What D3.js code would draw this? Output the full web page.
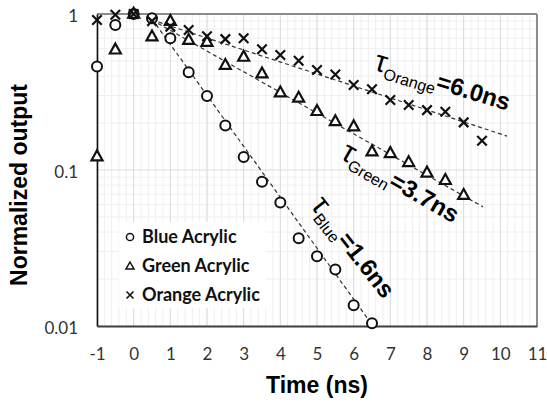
<!DOCTYPE html>
<html><head><meta charset="utf-8">
<script src="https://cdn.jsdelivr.net/npm/d3@7/dist/d3.min.js"></script>
<style>body{margin:0;background:#fff}svg{display:block}</style>
</head><body>
<script>
// ---- data ----
const blueT = [-1,-0.5,0,0.5,1,1.5,2,2.5,3,3.5,4,4.5,5,5.5,6,6.5];
const blueV = [0.46,0.85,1.0,0.94,0.70,0.423,0.298,0.193,0.121,0.084,0.062,0.0365,0.028,0.023,0.0136,0.0104];
const greenT = [-1,-0.5,0,0.5,1,1.5,2,2.5,3,3.5,4,4.5,5,5.5,6,6.5,7,7.5,8,8.5,9];
const greenV = [0.122,0.59,1.0,0.716,0.90,0.68,0.66,0.47,0.53,0.415,0.313,0.29,0.238,0.205,0.19,0.131,0.128,0.112,0.096,0.086,0.069];
const orangeT = [-1,-0.5,0,0.5,1,1.5,2,2.5,3,3.5,4,4.5,5,5.5,6,6.5,7,7.5,8,8.5,9,9.5];
const orangeV = [0.915,0.99,1.0,0.90,0.83,0.79,0.72,0.69,0.70,0.594,0.546,0.502,0.438,0.41,0.351,0.329,0.281,0.261,0.242,0.236,0.202,0.154];
// fitted trend lines: [t0, v0, t1, v1]
const blueFit = [0.5, 0.93, 6.5, 0.0102];
const greenFit = [0.5, 0.915, 9.53, 0.058];
const orangeFit = [0.5, 0.915, 10.18, 0.165];
const xTicks = [-1,0,1,2,3,4,5,6,7,8,9,10,11];
const xTickLabels = ["-1","0","1","2","3","4","5","6","7","8","9","10","11"];
const yTicks = [1, 0.1, 0.01];
const yTickLabels = ["1", "0.1", "0.01"];
const seriesNames = ["Blue Acrylic", "Green Acrylic", "Orange Acrylic"];
const tauLabels = [
  {sub:"Orange", val:"=6.0ns", t:6.52, v:0.44, angle:17},
  {sub:"Green", val:"=3.7ns", t:5.6, v:0.12, angle:30},
  {sub:"Blue", val:"=1.6ns", t:4.8, v:0.059, angle:52}
];

// ---- layout ----
const W = 547, H = 405;
const L = 97, R = 537, T = 14, B = 326;
const svg = d3.select("body").append("svg").attr("width", W).attr("height", H);
const x = d3.scaleLinear().domain([-1, 11]).range([L, R]);
const y = d3.scaleLog().domain([0.01, 1]).range([B, T]);

// gridlines
const g = svg.append("g");
const minorX = d3.range(-1, 11.001, 0.2).map(d => +d.toFixed(2));
g.selectAll(".mx").data(minorX).join("line")
  .attr("x1", d => x(d)).attr("x2", d => x(d)).attr("y1", T).attr("y2", B)
  .attr("stroke", "#efefef").attr("stroke-width", 1);
const minorY = [];
[0.01, 0.1].forEach(dec => { for (let k = 2; k <= 9; k++) minorY.push(dec * k); });
g.selectAll(".my").data(minorY).join("line")
  .attr("x1", L).attr("x2", R).attr("y1", d => y(d)).attr("y2", d => y(d))
  .attr("stroke", "#efefef").attr("stroke-width", 1);
g.selectAll(".Mx").data(xTicks).join("line")
  .attr("x1", d => x(d)).attr("x2", d => x(d)).attr("y1", T).attr("y2", B)
  .attr("stroke", "#dcdcdc").attr("stroke-width", 1);
g.selectAll(".My").data(yTicks).join("line")
  .attr("x1", L).attr("x2", R).attr("y1", d => y(d)).attr("y2", d => y(d))
  .attr("stroke", "#dcdcdc").attr("stroke-width", 1);

// border
svg.append("line").attr("x1", L).attr("x2", R).attr("y1", T).attr("y2", T).attr("stroke", "#8c8c8c").attr("stroke-width", 2);
svg.append("line").attr("x1", R).attr("x2", R).attr("y1", T).attr("y2", B).attr("stroke", "#8c8c8c").attr("stroke-width", 2);

// axes
const xAxis = d3.axisBottom(x).tickValues(xTicks).tickSize(0).tickFormat((d, i) => xTickLabels[i]);
const xa = svg.append("g").attr("transform", `translate(0,${B})`).call(xAxis);
xa.select(".domain").attr("stroke", "#404040").attr("stroke-width", 2);
xa.selectAll("text").attr("font-family", "Lato, 'Open Sans', sans-serif").attr("font-size", 17)
  .attr("fill", "#333").attr("dy", 0).attr("y", 34);
const yAxis = d3.axisLeft(y).tickValues(yTicks).tickSize(0).tickFormat((d, i) => yTickLabels[i]);
const ya = svg.append("g").attr("transform", `translate(${L},0)`).call(yAxis);
ya.select(".domain").attr("stroke", "#111").attr("stroke-width", 1.6);
ya.selectAll("text").attr("font-family", "Lato, 'Open Sans', sans-serif").attr("font-size", 17)
  .attr("fill", "#333").attr("x", -19).attr("dy", "0.42em");

// legend box (behind data)
const legend = svg.append("g");
legend.append("rect").attr("x", 119).attr("y", 222).attr("width", 147).attr("height", 86).attr("fill", "#fff");

// trend lines
const fits = [blueFit, greenFit, orangeFit];
svg.selectAll(".fit").data(fits).join("line")
  .attr("x1", d => x(d[0])).attr("y1", d => y(d[1]))
  .attr("x2", d => x(d[2])).attr("y2", d => y(d[3]))
  .attr("stroke", "#333").attr("stroke-width", 1.2).attr("stroke-dasharray", "4,3");

// markers
function circle(sel, r) {
  sel.append("circle").attr("r", r).attr("fill", "#fff").attr("stroke", "#111").attr("stroke-width", 2);
}
function tri(sel, s) {
  const h = s * 0.9;
  sel.append("path").attr("d", `M0,${-h*0.62}L${s/2},${h*0.38}L${-s/2},${h*0.38}Z`)
    .attr("fill", "#fff").attr("stroke", "#111").attr("stroke-width", 2.2).attr("stroke-linejoin", "miter");
}
function cross(sel, s) {
  sel.append("path").attr("d", `M${-s/2},${-s/2}L${s/2},${s/2}M${-s/2},${s/2}L${s/2},${-s/2}`)
    .attr("stroke", "#111").attr("stroke-width", 2.2).attr("fill", "none");
}
const blue = blueT.map((t, i) => ({t, v: blueV[i]}));
const green = greenT.map((t, i) => ({t, v: greenV[i]}));
const orange = orangeT.map((t, i) => ({t, v: orangeV[i]}));
svg.append("g").selectAll("g").data(blue).join("g")
  .attr("transform", d => `translate(${x(d.t)},${y(d.v)})`).each(function(){ circle(d3.select(this), 5); });
svg.append("g").selectAll("g").data(green).join("g")
  .attr("transform", d => `translate(${x(d.t)},${y(d.v)})`).each(function(){ tri(d3.select(this), 11); });
svg.append("g").selectAll("g").data(orange).join("g")
  .attr("transform", d => `translate(${x(d.t)},${y(d.v)})`).each(function(){ cross(d3.select(this), 9.5); });

// legend entries
const legY = [237, 266, 295];
seriesNames.forEach((name, i) => {
  const e = legend.append("g").attr("transform", `translate(130,${legY[i]})`);
  if (i === 0) e.append("circle").attr("r", 3.6).attr("fill", "#fff").attr("stroke", "#111").attr("stroke-width", 1.5);
  if (i === 1) e.append("path").attr("d", "M0,-4L4,3L-4,3Z").attr("fill", "#fff").attr("stroke", "#111").attr("stroke-width", 1.5);
  if (i === 2) e.append("path").attr("d", "M-3.5,-3.5L3.5,3.5M-3.5,3.5L3.5,-3.5").attr("stroke", "#111").attr("stroke-width", 1.6);
  legend.append("text").attr("x", 142).attr("y", legY[i]).attr("dy", "0.36em")
    .attr("font-family", "Lato, 'Open Sans', sans-serif").attr("font-weight", "bold").attr("font-size", 18)
    .attr("fill", "#111").text(name);
});

// tau labels
tauLabels.forEach(lb => {
  const t = svg.append("text")
    .attr("transform", `translate(${x(lb.t)},${y(lb.v)}) rotate(${lb.angle})`)
    .attr("font-family", "'Liberation Sans', Arial, sans-serif").attr("fill", "#000");
  t.append("tspan").attr("font-size", 30).text("τ");
  t.append("tspan").attr("font-size", 16).attr("dy", 6).text(lb.sub);
  t.append("tspan").attr("font-size", 24).attr("font-weight", "bold").attr("dy", -6).text(lb.val);
});

// axis titles
svg.append("text").attr("x", 317).attr("y", 393).attr("text-anchor", "middle")
  .attr("font-family", "'Liberation Sans', Arial, sans-serif").attr("font-weight", "bold").attr("font-size", 23)
  .attr("fill", "#000").text("Time (ns)");
svg.append("text").attr("transform", `translate(27,${(T + B) / 2 + 15}) rotate(-90)`).attr("text-anchor", "middle")
  .attr("font-family", "'Liberation Sans', Arial, sans-serif").attr("font-weight", "bold").attr("font-size", 23)
  .attr("fill", "#000").text("Normalized output");
</script>
</body></html>
